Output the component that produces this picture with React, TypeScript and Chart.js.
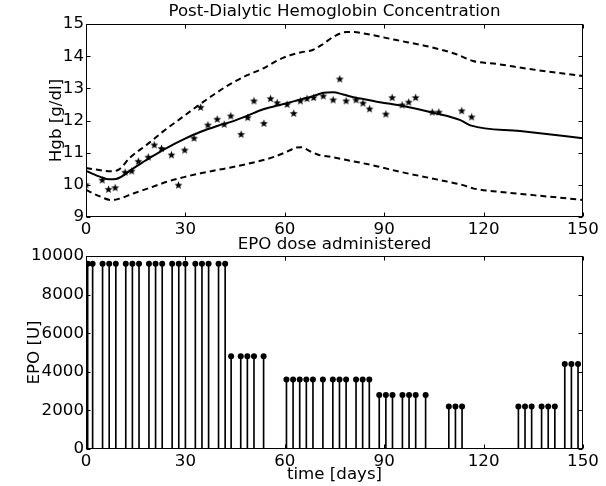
import React, { useEffect, useRef } from "react";
import { Chart, registerables } from "chart.js";

Chart.register(...registerables);

// ---- Top chart data ----
const HGB_DAYS = [0, 4.9, 6.8, 8.8, 11.8, 13.8, 15.8, 18.8, 20.6, 22.8, 25.8, 27.9, 29.8, 32.6, 34.6, 36.8, 39.6, 41.7, 43.7, 46.8, 48.8, 50.7, 53.7, 55.7, 57.7, 60.7, 62.7, 64.7, 66.7, 68.7, 71.6, 74.6, 76.6, 78.5, 81.5, 83.6, 85.6, 90.5, 92.4, 95.4, 97.4, 99.5, 104.5, 106.5, 113.4, 116.4];
const HGB_VALUES = [10.0, 10.15, 9.86, 9.91, 10.39, 10.43, 10.73, 10.86, 11.24, 11.13, 10.93, 9.99, 11.08, 11.45, 12.41, 11.86, 12.04, 11.88, 12.14, 11.57, 12.09, 12.61, 11.91, 12.68, 12.55, 12.5, 12.22, 12.61, 12.68, 12.71, 12.76, 12.64, 13.29, 12.61, 12.64, 12.54, 12.36, 12.2, 12.71, 12.48, 12.57, 12.71, 12.26, 12.26, 12.3, 12.11];

const MEAN_DAYS = [0, 4.5, 7, 9, 14.5, 19.6, 24.6, 29.6, 34.6, 39.6, 44.7, 48.5, 53.5, 58.5, 63.6, 68.6, 71.6, 74.6, 77.6, 81.7, 83.7, 88.7, 95.7, 105.7, 112.8, 116.3, 131, 150];
const MEAN_VALUES = [10.43, 10.24, 10.17, 10.18, 10.53, 10.86, 11.16, 11.42, 11.65, 11.83, 11.99, 12.14, 12.35, 12.48, 12.62, 12.76, 12.86, 12.88, 12.81, 12.7, 12.67, 12.57, 12.45, 12.22, 12.02, 11.84, 11.67, 11.45];

const UPPER_DAYS = [0, 4, 7.5, 10, 13.3, 18.4, 23.4, 28.4, 33.4, 38.5, 43.5, 48.5, 53.5, 58, 61.6, 65, 68.6, 71.6, 74.6, 78.7, 81, 83.6, 93.7, 103.7, 111.8, 116.8, 123.8, 133.9, 150];
const UPPER_VALUES = [10.52, 10.46, 10.42, 10.48, 10.85, 11.25, 11.67, 12.05, 12.43, 12.8, 13.13, 13.4, 13.62, 13.88, 14.03, 14.12, 14.2, 14.38, 14.6, 14.75, 14.75, 14.71, 14.5, 14.29, 14.06, 13.85, 13.76, 13.6, 13.38];

const LOWER_DAYS = [0, 4, 7.5, 9, 14.5, 19.6, 24.6, 29.6, 34.6, 39.6, 44.7, 53.5, 56.5, 60, 63.6, 65, 67.5, 70.6, 74, 78.7, 83.7, 87.7, 95, 105.8, 113.8, 116.8, 125, 135, 150];
const LOWER_VALUES = [9.84, 9.65, 9.53, 9.54, 9.74, 9.92, 10.1, 10.24, 10.36, 10.46, 10.56, 10.77, 10.86, 11.0, 11.16, 11.17, 11.05, 10.92, 10.87, 10.77, 10.67, 10.58, 10.4, 10.17, 9.99, 9.89, 9.78, 9.68, 9.53];

const TOP_X_TICKS = [0, 30, 60, 90, 120, 150];
const TOP_Y_TICKS = [9, 10, 11, 12, 13, 14, 15];

// ---- Bottom chart data ----
const EPO_DAYS = [0.5, 2, 5, 7, 9, 12, 14, 16, 19, 21, 23, 26, 28, 30, 33, 35, 37, 40, 42, 43.8, 46.7, 48.7, 50.7, 53.6, 60.5, 62.5, 64.5, 66.5, 68.5, 71.5, 74.5, 76.5, 78.5, 81.5, 83.5, 85.5, 88.5, 90.5, 92.5, 95.5, 97.5, 99.5, 102.5, 109.5, 111.5, 113.5, 130.5, 132.5, 134.5, 137.5, 139.5, 141.5, 144.5, 146.5, 148.5];
const EPO_DOSES = [9600, 9600, 9600, 9600, 9600, 9600, 9600, 9600, 9600, 9600, 9600, 9600, 9600, 9600, 9600, 9600, 9600, 9600, 9600, 4800, 4800, 4800, 4800, 4800, 3600, 3600, 3600, 3600, 3600, 3600, 3600, 3600, 3600, 3600, 3600, 3600, 2800, 2800, 2800, 2800, 2800, 2800, 2800, 2200, 2200, 2200, 2200, 2200, 2200, 2200, 2200, 2200, 4400, 4400, 4400];
const EPO_Y_TICKS = [0, 2000, 4000, 6000, 8000, 10000];

const FONT = "DejaVu Sans";
const FS = 16.67;

function zip(xs: number[], ys: number[]) {
  return xs.map((x, i) => ({ x, y: ys[i] }));
}

function makeStar(): HTMLCanvasElement {
  const c = document.createElement("canvas");
  c.width = 9;
  c.height = 9;
  const g = c.getContext("2d")!;
  const cx = 4.5, cy = 4.7, ro = 4.2, ri = 1.8;
  g.beginPath();
  for (let i = 0; i < 10; i++) {
    const r = i % 2 === 0 ? ro : ri;
    const a = -Math.PI / 2 + (i * Math.PI) / 5;
    const px = cx + r * Math.cos(a), py = cy + r * Math.sin(a);
    if (i === 0) g.moveTo(px, py);
    else g.lineTo(px, py);
  }
  g.closePath();
  g.fillStyle = "#000";
  g.fill();
  return c;
}

const framePlugin = {
  id: "frame",
  afterDatasetsDraw(chart: any) {
    const { ctx, chartArea } = chart;
    const { left, top, right, bottom } = chartArea;
    ctx.save();
    ctx.strokeStyle = "#000";
    ctx.lineWidth = 1;
    const L = Math.round(left) + 0.5;
    const R = Math.round(right) - 0.5;
    const T = Math.round(top) + 0.5;
    const B = Math.round(bottom) - 0.5;
    ctx.strokeRect(L, T, R - L, B - T);
    const len = 4;
    const xs = chart.scales.x;
    const ys = chart.scales.y;
    ctx.beginPath();
    xs.ticks.forEach((t: any) => {
      const px = Math.round(xs.getPixelForValue(t.value)) + 0.5;
      ctx.moveTo(px, B);
      ctx.lineTo(px, B - len);
      ctx.moveTo(px, T);
      ctx.lineTo(px, T + len);
    });
    ys.ticks.forEach((t: any) => {
      const py = Math.round(ys.getPixelForValue(t.value)) + 0.5;
      ctx.moveTo(L, py);
      ctx.lineTo(L + len, py);
      ctx.moveTo(R, py);
      ctx.lineTo(R - len, py);
    });
    ctx.stroke();
    ctx.restore();
  },
};

const tickFont = { family: FONT, size: FS };

function TopChart() {
  const ref = useRef<HTMLCanvasElement>(null);
  useEffect(() => {
    const star = makeStar();
    const lineBase = {
      type: "line" as const,
      borderColor: "#000",
      borderWidth: 2,
      pointRadius: 0,
      fill: false,
      cubicInterpolationMode: "monotone" as const,
    };
    const chart = new Chart(ref.current!, {
      type: "line",
      data: {
        datasets: [
          { ...lineBase, data: zip(MEAN_DAYS, MEAN_VALUES) },
          { ...lineBase, data: zip(UPPER_DAYS, UPPER_VALUES), borderDash: [6, 4] },
          { ...lineBase, data: zip(LOWER_DAYS, LOWER_VALUES), borderDash: [6, 4] },
          {
            type: "scatter",
            data: zip(HGB_DAYS, HGB_VALUES),
            showLine: false,
            pointStyle: star as any,
            pointRadius: 4,
          } as any,
        ],
      },
      options: {
        responsive: false,
        animation: false,
        devicePixelRatio: 1,
        layout: { padding: { left: 0, right: 23, top: 0, bottom: 0 } },
        plugins: {
          legend: { display: false },
          tooltip: { enabled: false },
          title: {
            display: true,
            fullSize: false,
            text: "Post-Dialytic Hemoglobin Concentration",
            color: "#000",
            font: { family: FONT, size: FS, weight: "normal" },
            padding: { top: 2, bottom: 2 },
          },
        },
        scales: {
          x: {
            type: "linear",
            min: 0,
            max: 150,
            afterBuildTicks: (s: any) => { s.ticks = TOP_X_TICKS.map((v) => ({ value: v })); },
            ticks: { color: "#000", font: tickFont, padding: 3, maxRotation: 0, autoSkip: false },
            grid: { display: false, drawTicks: false },
            border: { display: false },
            afterFit: (s: any) => { s.height = 26; },
          },
          y: {
            type: "linear",
            min: 9,
            max: 15,
            afterBuildTicks: (s: any) => { s.ticks = TOP_Y_TICKS.map((v) => ({ value: v })); },
            ticks: { color: "#000", font: tickFont, padding: 2, autoSkip: false },
            grid: { display: false, drawTicks: false },
            border: { display: false },
            title: {
              display: true,
              text: "Hgb [g/dl]",
              color: "#000",
              font: tickFont,
              padding: { top: 47, bottom: 0 },
            },
            afterFit: (s: any) => { s.width = 86; },
          },
        },
      },
      plugins: [framePlugin],
    } as any);
    return () => chart.destroy();
  }, []);
  return (
    <canvas
      ref={ref}
      width={606}
      height={243}
      style={{ position: "absolute", left: 0, top: 0, width: 606, height: 243 }}
    />
  );
}

function BottomChart() {
  const ref = useRef<HTMLCanvasElement>(null);
  useEffect(() => {
    const stems = zip(EPO_DAYS, EPO_DOSES);
    const chart = new Chart(ref.current!, {
      type: "bar",
      data: {
        datasets: [
          {
            type: "bar",
            data: stems,
            backgroundColor: "#000",
            borderWidth: 0,
            barThickness: 1,
            grouped: false,
            order: 2,
          } as any,
          {
            type: "scatter",
            data: stems,
            showLine: false,
            pointStyle: "circle",
            pointRadius: 3,
            backgroundColor: "#000",
            borderWidth: 0,
            order: 1,
          } as any,
        ],
      },
      options: {
        responsive: false,
        animation: false,
        devicePixelRatio: 1,
        layout: { padding: { left: 0, right: 23, top: 0, bottom: 0 } },
        plugins: {
          legend: { display: false },
          tooltip: { enabled: false },
          title: {
            display: true,
            fullSize: false,
            text: "EPO dose administered",
            color: "#000",
            font: { family: FONT, size: FS, weight: "normal" },
            padding: { top: 7, bottom: 1 },
          },
        },
        scales: {
          x: {
            type: "linear",
            min: 0,
            max: 150,
            offset: false,
            afterBuildTicks: (s: any) => { s.ticks = TOP_X_TICKS.map((v) => ({ value: v })); },
            ticks: { color: "#000", font: tickFont, padding: 3, maxRotation: 0, autoSkip: false },
            grid: { display: false, drawTicks: false },
            border: { display: false },
            title: {
              display: true,
              text: "time [days]",
              color: "#000",
              font: tickFont,
              padding: { top: 0, bottom: 1 },
            },
            afterFit: (s: any) => { s.height = 37; },
          },
          y: {
            type: "linear",
            min: 0,
            max: 10000,
            afterBuildTicks: (s: any) => { s.ticks = EPO_Y_TICKS.map((v) => ({ value: v })); },
            ticks: {
              color: "#000",
              font: tickFont,
              padding: 2,
              autoSkip: false,
              callback: (v: any) => String(v),
            },
            grid: { display: false, drawTicks: false },
            border: { display: false },
            title: {
              display: true,
              text: "EPO [U]",
              color: "#000",
              font: tickFont,
              padding: { top: 25, bottom: 0 },
            },
            afterFit: (s: any) => { s.width = 86; },
          },
        },
      },
      plugins: [framePlugin],
    } as any);
    return () => chart.destroy();
  }, []);
  return (
    <canvas
      ref={ref}
      width={606}
      height={258}
      style={{ position: "absolute", left: 0, top: 228, width: 606, height: 258 }}
    />
  );
}

export default function App() {
  return (
    <div style={{ position: "fixed", left: 0, top: 0, width: 606, height: 486, background: "#fff" }}>
      <TopChart />
      <BottomChart />
    </div>
  );
}
